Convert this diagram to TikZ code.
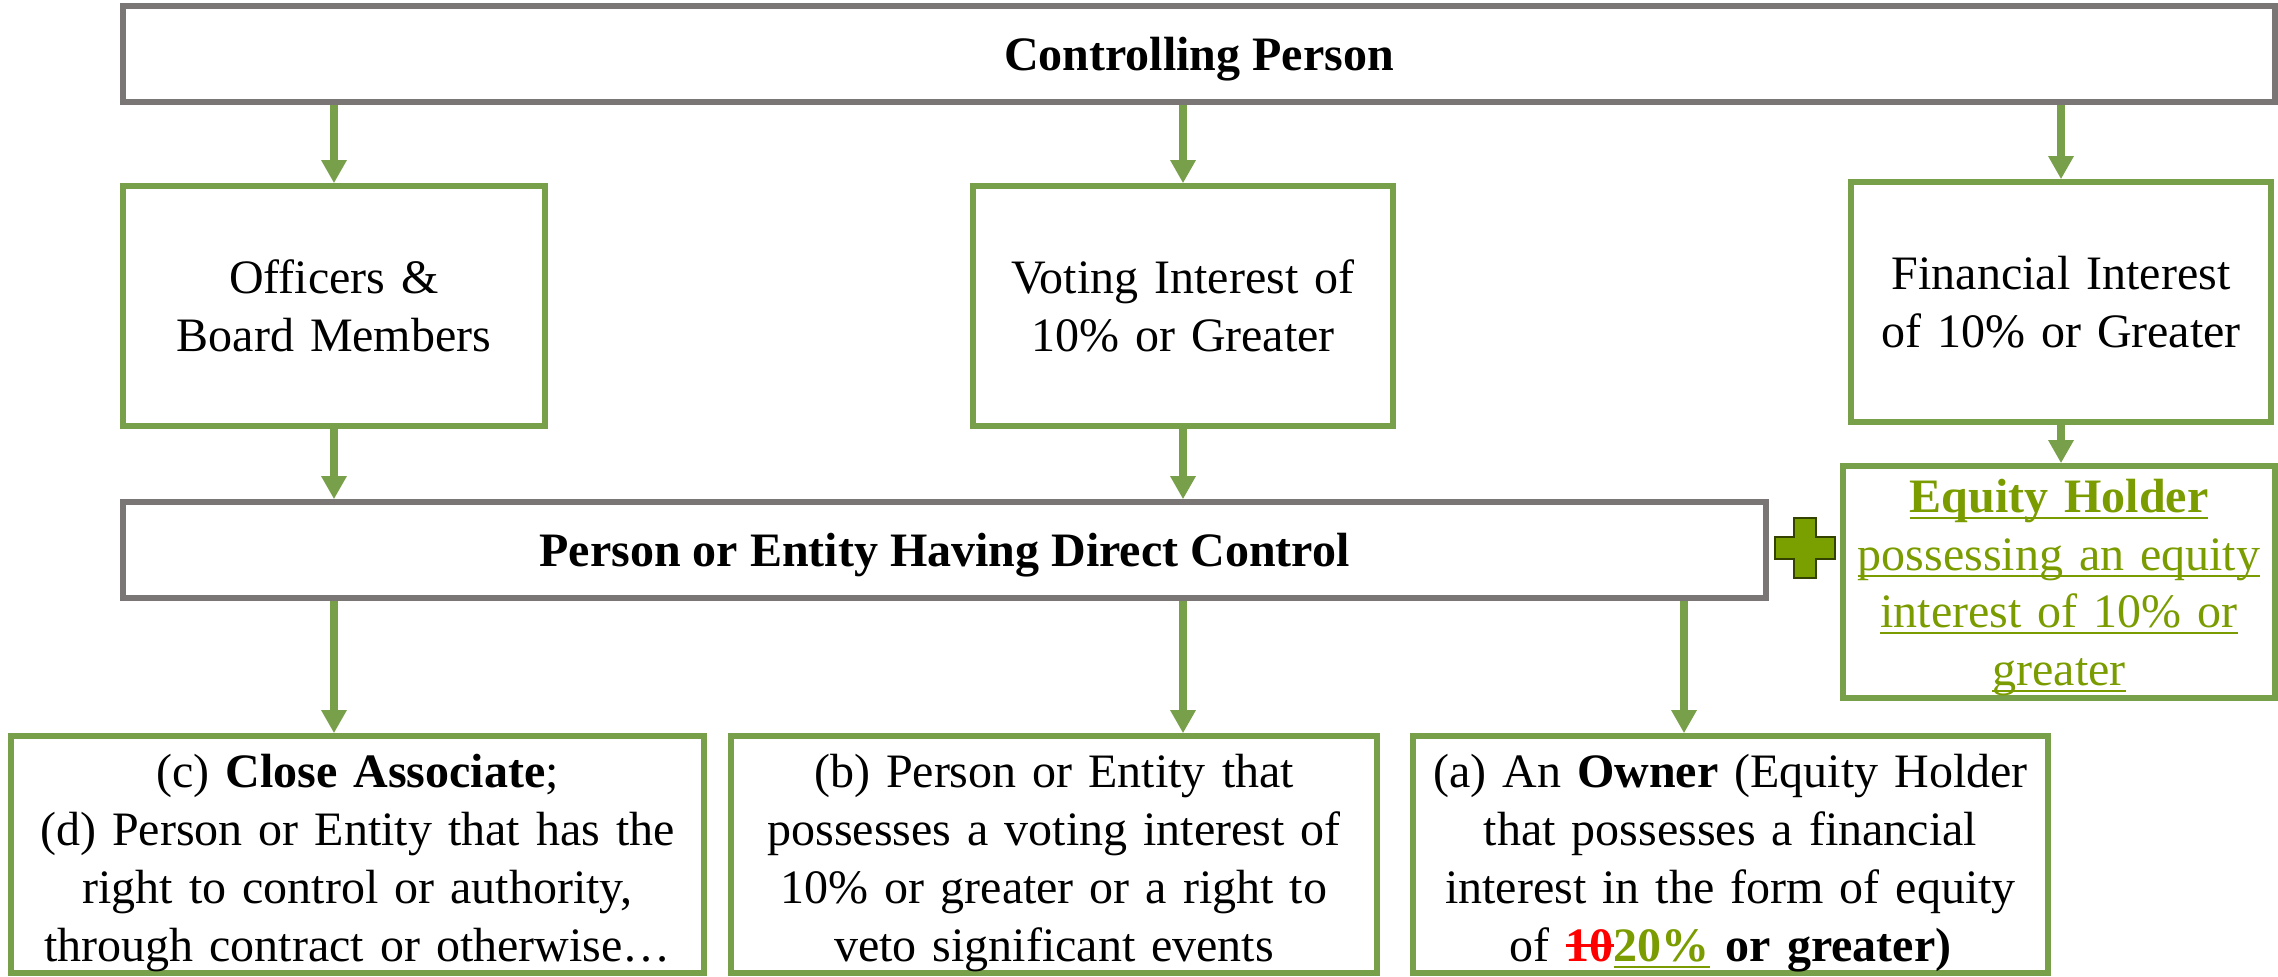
\documentclass[tikz,border=0pt]{standalone}
\usepackage{fontspec}
\setmainfont{Liberation Serif}
\usetikzlibrary{arrows.meta}

\definecolor{boxgray}{RGB}{122,118,117}
\definecolor{boxgreen}{RGB}{120,159,74}
\definecolor{eqgreen}{RGB}{122,156,0}
\definecolor{plusgreen}{RGB}{122,160,0}
\definecolor{plusdark}{RGB}{52,66,0}

\newsavebox\marktextbox
\newcommand{\uln}[1]{\leavevmode\sbox\marktextbox{#1}\rlap{\rule[-1.7pt]{\wd\marktextbox}{0.55pt}}\usebox\marktextbox}
\newcommand{\strk}[1]{\leavevmode\sbox\marktextbox{#1}\rlap{\rule[3.6pt]{\wd\marktextbox}{0.7pt}}\usebox\marktextbox}

\begin{document}
\begin{tikzpicture}[x=0.25pt, y=-0.25pt,
  box/.style={draw, line width=1.4pt, inner sep=0pt, align=center, font=\fontsize{12}{14.5}\selectfont},
  graybox/.style={box, draw=boxgray, font=\fontsize{12}{14.5}\selectfont\bfseries, text depth=0pt},
  greenbox/.style={box, draw=boxgreen},
  midbox/.style={greenbox, minimum width=105pt, minimum height=60pt, text width=100pt},
  lowbox/.style={greenbox, minimum height=59.25pt, execute at begin node={\rule{0pt}{12.6pt}}},
  plusmark/.style={fill=plusgreen, draw=plusdark, line width=0.6pt},
  arr/.style={-{Triangle[length=5.75pt, width=6pt]}, line width=1.9pt, draw=boxgreen}
]
\useasboundingbox (0,0) rectangle (2278,976);

\node[graybox, minimum width=538pt, minimum height=24pt] (ctrl) at (1199,54) {Controlling Person};

\node[midbox, minimum width=105.5pt] (off) at (334,306) {Officers \&\\Board Members};
\node[midbox] (vote) at (1183,306) {Voting Interest of\\10\% or Greater};
\node[midbox] (fin) at (2061,302) {Financial Interest\\of 10\% or Greater};

\node[graybox, minimum width=410.75pt, minimum height=24pt] (pehdc) at (944.5,550) {Person or Entity Having Direct Control};
\node[greenbox, minimum width=108pt, minimum height=58pt, text width=104pt, text=eqgreen,
  font=\fontsize{12}{14.4}\selectfont, execute at begin node={\rule{0pt}{11pt}}] (equity) at (2059,582)
  {\textbf{\uln{Equity Holder}}\\\uln{possessing an equity}\\\uln{interest of 10\% or}\\\uln{greater}};

\node[lowbox, minimum width=173.25pt, text width=170pt] (assoc) at (357.5,854.5)
  {(c) \textbf{Close Associate};\\(d) Person or Entity that has the\\right to control or authority,\\through contract or otherwise…};
\node[lowbox, minimum width=161.5pt, text width=158pt] (veto) at (1054,854.5)
  {(b) Person or Entity that\\possesses a voting interest of\\10\% or greater or a right to\\veto significant events};
\node[lowbox, minimum width=158.75pt, text width=155pt] (owner) at (1730.5,854.5)
  {(a) An \textbf{Owner} (Equity Holder\\that possesses a financial\\interest in the form of equity\\of \textbf{\textcolor{red}{\strk{10}}\textcolor{eqgreen}{\uln{20\%}} or greater)}};

% plus sign between the two rows
\draw[plusmark] (1794,518) -- (1816,518) -- (1816,537) -- (1835,537) -- (1835,559) -- (1816,559)
  -- (1816,578) -- (1794,578) -- (1794,559) -- (1775,559) -- (1775,537) -- (1794,537) -- cycle;

\coordinate (ownerin) at (1684,736);

\draw[arr] (ctrl.south -| off.north) -- (off.north);
\draw[arr] (ctrl.south -| vote.north) -- (vote.north);
\draw[arr] (ctrl.south -| fin.north) -- (fin.north);
\draw[arr] (fin.south) -- (equity.north -| fin.south);
\draw[arr] (off.south) -- (pehdc.north -| off.south);
\draw[arr] (vote.south) -- (pehdc.north -| vote.south);
\draw[arr] (pehdc.south -| off.south) -- (assoc.north -| off.south);
\draw[arr] (pehdc.south -| vote.south) -- (veto.north -| vote.south);
\draw[arr] (pehdc.south -| ownerin) -- (owner.north -| ownerin);
\end{tikzpicture}
\end{document}
